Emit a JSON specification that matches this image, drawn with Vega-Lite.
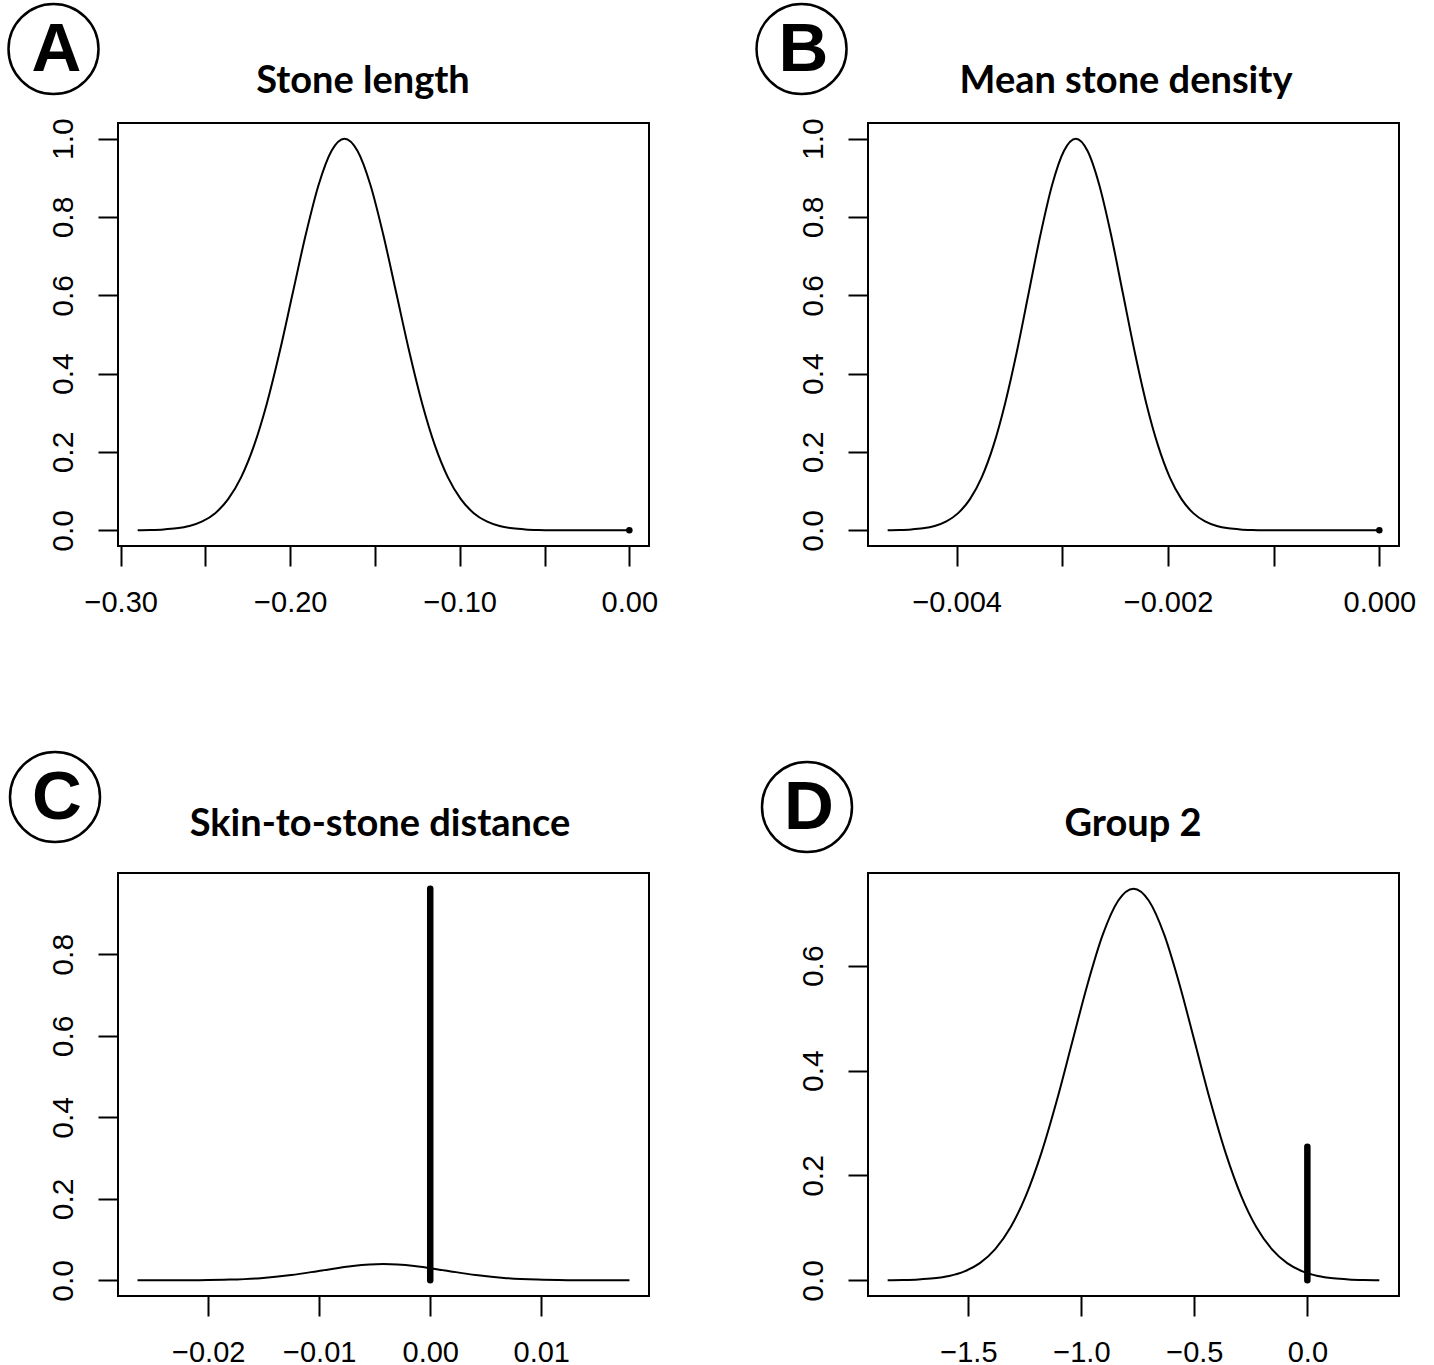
{
 "$schema": "https://vega.github.io/schema/vega-lite/v6.json",
 "background": "white",
 "padding": {"left": 2, "top": -2, "right": 10, "bottom": 5},
 "columns": 2,
 "spacing": {"row": 327, "column": 219},
 "bounds": "flush",
 "datasets": {
  "curves": [
   {"panel":"A","x":-0.290,"y":0.000335},{"panel":"A","x":-0.28238,"y":0.00088},{"panel":"A","x":-0.27475,"y":0.00219},{"panel":"A","x":-0.26713,"y":0.00509},{"panel":"A","x":-0.2595,"y":0.0111},{"panel":"A","x":-0.25188,"y":0.0228},{"panel":"A","x":-0.24425,"y":0.0439},{"panel":"A","x":-0.23663,"y":0.0796},{"panel":"A","x":-0.229,"y":0.1353},{"panel":"A","x":-0.22138,"y":0.2163},{"panel":"A","x":-0.21375,"y":0.3247},{"panel":"A","x":-0.20613,"y":0.4578},{"panel":"A","x":-0.1985,"y":0.6065},{"panel":"A","x":-0.19088,"y":0.7548},{"panel":"A","x":-0.18325,"y":0.8825},{"panel":"A","x":-0.17563,"y":0.9692},{"panel":"A","x":-0.168,"y":1},{"panel":"A","x":-0.16038,"y":0.9692},{"panel":"A","x":-0.15275,"y":0.8825},{"panel":"A","x":-0.14513,"y":0.7548},{"panel":"A","x":-0.1375,"y":0.6065},{"panel":"A","x":-0.12988,"y":0.4578},{"panel":"A","x":-0.12225,"y":0.3247},{"panel":"A","x":-0.11463,"y":0.2163},{"panel":"A","x":-0.107,"y":0.1353},{"panel":"A","x":-0.09938,"y":0.0796},{"panel":"A","x":-0.09175,"y":0.0439},{"panel":"A","x":-0.08413,"y":0.0228},{"panel":"A","x":-0.0765,"y":0.0111},{"panel":"A","x":-0.06888,"y":0.00509},{"panel":"A","x":-0.06125,"y":0.00219},{"panel":"A","x":-0.05363,"y":0.00088},{"panel":"A","x":-0.046,"y":0.000335},{"panel":"A","x":0,"y":0},
   {"panel":"B","x":-0.004653,"y":0.000335},{"panel":"B","x":-0.004542,"y":0.00088},{"panel":"B","x":-0.004431,"y":0.00219},{"panel":"B","x":-0.004319,"y":0.00509},{"panel":"B","x":-0.004208,"y":0.0111},{"panel":"B","x":-0.004097,"y":0.0228},{"panel":"B","x":-0.003986,"y":0.0439},{"panel":"B","x":-0.003874,"y":0.0796},{"panel":"B","x":-0.003763,"y":0.1353},{"panel":"B","x":-0.003652,"y":0.2163},{"panel":"B","x":-0.003541,"y":0.3247},{"panel":"B","x":-0.003429,"y":0.4578},{"panel":"B","x":-0.003318,"y":0.6065},{"panel":"B","x":-0.003207,"y":0.7548},{"panel":"B","x":-0.003096,"y":0.8825},{"panel":"B","x":-0.002984,"y":0.9692},{"panel":"B","x":-0.002873,"y":1},{"panel":"B","x":-0.002762,"y":0.9692},{"panel":"B","x":-0.002651,"y":0.8825},{"panel":"B","x":-0.002539,"y":0.7548},{"panel":"B","x":-0.002428,"y":0.6065},{"panel":"B","x":-0.002317,"y":0.4578},{"panel":"B","x":-0.002206,"y":0.3247},{"panel":"B","x":-0.002094,"y":0.2163},{"panel":"B","x":-0.001983,"y":0.1353},{"panel":"B","x":-0.001872,"y":0.0796},{"panel":"B","x":-0.001761,"y":0.0439},{"panel":"B","x":-0.001649,"y":0.0228},{"panel":"B","x":-0.001538,"y":0.0111},{"panel":"B","x":-0.001427,"y":0.00509},{"panel":"B","x":-0.001316,"y":0.00219},{"panel":"B","x":-0.001204,"y":0.00088},{"panel":"B","x":-0.001093,"y":0.000335},{"panel":"B","x":0,"y":0},
   {"panel":"C","x":-0.02637,"y":0.00001},{"panel":"C","x":-0.0236,"y":0.00009},{"panel":"C","x":-0.02083,"y":0.00044},{"panel":"C","x":-0.01806,"y":0.00176},{"panel":"C","x":-0.01529,"y":0.00541},{"panel":"C","x":-0.01252,"y":0.01299},{"panel":"C","x":-0.00975,"y":0.02426},{"panel":"C","x":-0.00698,"y":0.0353},{"panel":"C","x":-0.00421,"y":0.04},{"panel":"C","x":-0.00144,"y":0.0353},{"panel":"C","x":0.00133,"y":0.02426},{"panel":"C","x":0.0041,"y":0.01299},{"panel":"C","x":0.00687,"y":0.00541},{"panel":"C","x":0.00964,"y":0.00176},{"panel":"C","x":0.01241,"y":0.00044},{"panel":"C","x":0.01518,"y":0.00009},{"panel":"C","x":0.01795,"y":0.00001},
   {"panel":"D","x":-1.8574,"y":0.00025},{"panel":"D","x":-1.7894,"y":0.00066},{"panel":"D","x":-1.7214,"y":0.00164},{"panel":"D","x":-1.6534,"y":0.0038},{"panel":"D","x":-1.5854,"y":0.00829},{"panel":"D","x":-1.5174,"y":0.01703},{"panel":"D","x":-1.4494,"y":0.03279},{"panel":"D","x":-1.3814,"y":0.05946},{"panel":"D","x":-1.3134,"y":0.10107},{"panel":"D","x":-1.2454,"y":0.16158},{"panel":"D","x":-1.1774,"y":0.24255},{"panel":"D","x":-1.1094,"y":0.34198},{"panel":"D","x":-1.0414,"y":0.45306},{"panel":"D","x":-0.9734,"y":0.56384},{"panel":"D","x":-0.9054,"y":0.65923},{"panel":"D","x":-0.8374,"y":0.72399},{"panel":"D","x":-0.7694,"y":0.747},{"panel":"D","x":-0.7014,"y":0.72399},{"panel":"D","x":-0.6334,"y":0.65923},{"panel":"D","x":-0.5654,"y":0.56384},{"panel":"D","x":-0.4974,"y":0.45306},{"panel":"D","x":-0.4294,"y":0.34198},{"panel":"D","x":-0.3614,"y":0.24255},{"panel":"D","x":-0.2934,"y":0.16158},{"panel":"D","x":-0.2254,"y":0.10107},{"panel":"D","x":-0.1574,"y":0.05946},{"panel":"D","x":-0.0894,"y":0.03279},{"panel":"D","x":-0.0214,"y":0.01703},{"panel":"D","x":0.0466,"y":0.00829},{"panel":"D","x":0.1146,"y":0.0038},{"panel":"D","x":0.1826,"y":0.00164},{"panel":"D","x":0.2506,"y":0.00066},{"panel":"D","x":0.3186,"y":0.00025}
  ],
  "spikes": [
   {"panel":"A","x":0,"y0":0,"y1":0},
   {"panel":"B","x":0,"y0":0,"y1":0},
   {"panel":"C","x":0,"y0":0,"y1":0.961},
   {"panel":"D","x":0,"y0":0,"y1":0.255}
  ],
  "labels": [
   {"panel":"A","letter":"A","title":"Stone length"},
   {"panel":"B","letter":"B","title":"Mean stone density"},
   {"panel":"C","letter":"C","title":"Skin-to-stone distance"},
   {"panel":"D","letter":"D","title":"Group 2"}
  ]
 },
 "concat": [
  {
   "width": 531, "height": 423,
   "layer": [
    {"data": {"name": "curves"}, "transform": [{"filter": "datum.panel === 'A'"}],
     "mark": {"type": "line", "color": "black", "strokeWidth": 2, "interpolate": "monotone"},
     "encoding": {
      "x": {"field": "x", "type": "quantitative", "scale": {"domain": [-0.3016, 0.0116], "nice": false, "zero": false},
            "axis": {"title": null, "values": [-0.3, -0.25, -0.2, -0.15, -0.1, -0.05, 0], "labelExpr": "indexof([-0.3, -0.2, -0.1, 0], datum.value) >= 0 ? format(datum.value, '.2f') : ''"}},
      "y": {"field": "y", "type": "quantitative", "scale": {"domain": [-0.04, 1.04], "nice": false, "zero": false},
            "axis": {"title": null, "values": [0, 0.2, 0.4, 0.6, 0.8, 1], "format": ".1f", "labelAngle": 270, "labelAlign": "center", "labelBaseline": "alphabetic"}}
     }},
    {"data": {"name": "spikes"}, "transform": [{"filter": "datum.panel === 'A'"}],
     "mark": {"type": "rule", "color": "black", "strokeWidth": 6.5, "strokeCap": "round"},
     "encoding": {"x": {"field": "x", "type": "quantitative"}, "y": {"field": "y0", "type": "quantitative"}, "y2": {"field": "y1"}}},
    {"data": {"name": "labels"}, "transform": [{"filter": "datum.panel === 'A'"}],
     "mark": {"type": "point", "shape": "circle", "size": 8100, "filled": false, "stroke": "black", "strokeWidth": 2.5, "opacity": 1, "clip": false},
     "encoding": {"x": {"datum": -0.33964, "type": "quantitative"}, "y": {"datum": 1.22893, "type": "quantitative"}}},
    {"data": {"name": "labels"}, "transform": [{"filter": "datum.panel === 'A'"}],
     "mark": {"type": "text", "font": "Liberation Sans", "fontWeight": "bold", "fontSize": 69, "align": "center", "baseline": "alphabetic", "color": "black", "clip": false},
     "encoding": {"x": {"datum": -0.33787, "type": "quantitative"}, "y": {"datum": 1.17149, "type": "quantitative"}, "text": {"field": "letter"}}},
    {"data": {"name": "labels"}, "transform": [{"filter": "datum.panel === 'A'"}],
     "mark": {"type": "text", "font": "Lato", "fontWeight": "bold", "fontSize": 38, "align": "center", "baseline": "alphabetic", "color": "black", "clip": false},
     "encoding": {"x": {"datum": -0.15709, "type": "quantitative"}, "y": {"datum": 1.1166, "type": "quantitative"}, "text": {"field": "title"}}}
   ]
  },
  {
   "width": 531, "height": 423,
   "layer": [
    {"data": {"name": "curves"}, "transform": [{"filter": "datum.panel === 'B'"}],
     "mark": {"type": "line", "color": "black", "strokeWidth": 2, "interpolate": "monotone"},
     "encoding": {
      "x": {"field": "x", "type": "quantitative", "scale": {"domain": [-0.004839, 0.000186], "nice": false, "zero": false},
            "axis": {"title": null, "values": [-0.004, -0.003, -0.002, -0.001, 0], "labelExpr": "indexof([-0.004, -0.002, 0], datum.value) >= 0 ? format(datum.value, '.3f') : ''"}},
      "y": {"field": "y", "type": "quantitative", "scale": {"domain": [-0.04, 1.04], "nice": false, "zero": false},
            "axis": {"title": null, "values": [0, 0.2, 0.4, 0.6, 0.8, 1], "format": ".1f", "labelAngle": 270, "labelAlign": "center", "labelBaseline": "alphabetic"}}
     }},
    {"data": {"name": "spikes"}, "transform": [{"filter": "datum.panel === 'B'"}],
     "mark": {"type": "rule", "color": "black", "strokeWidth": 6.5, "strokeCap": "round"},
     "encoding": {"x": {"field": "x", "type": "quantitative"}, "y": {"field": "y0", "type": "quantitative"}, "y2": {"field": "y1"}}},
    {"data": {"name": "labels"}, "transform": [{"filter": "datum.panel === 'B'"}],
     "mark": {"type": "point", "shape": "circle", "size": 8100, "filled": false, "stroke": "black", "strokeWidth": 2.5, "opacity": 1, "clip": false},
     "encoding": {"x": {"datum": -0.005468, "type": "quantitative"}, "y": {"datum": 1.22893, "type": "quantitative"}}},
    {"data": {"name": "labels"}, "transform": [{"filter": "datum.panel === 'B'"}],
     "mark": {"type": "text", "font": "Liberation Sans", "fontWeight": "bold", "fontSize": 69, "align": "center", "baseline": "alphabetic", "color": "black", "clip": false},
     "encoding": {"x": {"datum": -0.005449, "type": "quantitative"}, "y": {"datum": 1.17149, "type": "quantitative"}, "text": {"field": "letter"}}},
    {"data": {"name": "labels"}, "transform": [{"filter": "datum.panel === 'B'"}],
     "mark": {"type": "text", "font": "Lato", "fontWeight": "bold", "fontSize": 38, "align": "center", "baseline": "alphabetic", "color": "black", "clip": false},
     "encoding": {"x": {"datum": -0.0023975, "type": "quantitative"}, "y": {"datum": 1.1166, "type": "quantitative"}, "text": {"field": "title"}}}
   ]
  },
  {
   "width": 531, "height": 423,
   "layer": [
    {"data": {"name": "curves"}, "transform": [{"filter": "datum.panel === 'C'"}],
     "mark": {"type": "line", "color": "black", "strokeWidth": 2, "interpolate": "monotone"},
     "encoding": {
      "x": {"field": "x", "type": "quantitative", "scale": {"domain": [-0.02813, 0.01971], "nice": false, "zero": false},
            "axis": {"title": null, "values": [-0.02, -0.01, 0, 0.01], "format": ".2f"}},
      "y": {"field": "y", "type": "quantitative", "scale": {"domain": [-0.03844, 0.99944], "nice": false, "zero": false},
            "axis": {"title": null, "values": [0, 0.2, 0.4, 0.6, 0.8], "format": ".1f", "labelAngle": 270, "labelAlign": "center", "labelBaseline": "alphabetic"}}
     }},
    {"data": {"name": "spikes"}, "transform": [{"filter": "datum.panel === 'C'"}],
     "mark": {"type": "rule", "color": "black", "strokeWidth": 6.5, "strokeCap": "round"},
     "encoding": {"x": {"field": "x", "type": "quantitative"}, "y": {"field": "y0", "type": "quantitative"}, "y2": {"field": "y1"}}},
    {"data": {"name": "labels"}, "transform": [{"filter": "datum.panel === 'C'"}],
     "mark": {"type": "point", "shape": "circle", "size": 8100, "filled": false, "stroke": "black", "strokeWidth": 2.5, "opacity": 1, "clip": false},
     "encoding": {"x": {"datum": -0.033806, "type": "quantitative"}, "y": {"datum": 1.18592, "type": "quantitative"}}},
    {"data": {"name": "labels"}, "transform": [{"filter": "datum.panel === 'C'"}],
     "mark": {"type": "text", "font": "Liberation Sans", "fontWeight": "bold", "fontSize": 69, "align": "center", "baseline": "alphabetic", "color": "black", "clip": false},
     "encoding": {"x": {"datum": -0.033626, "type": "quantitative"}, "y": {"datum": 1.13071, "type": "quantitative"}, "text": {"field": "letter"}}},
    {"data": {"name": "labels"}, "transform": [{"filter": "datum.panel === 'C'"}],
     "mark": {"type": "text", "font": "Lato", "fontWeight": "bold", "fontSize": 38, "align": "center", "baseline": "alphabetic", "color": "black", "clip": false},
     "encoding": {"x": {"datum": -0.004525, "type": "quantitative"}, "y": {"datum": 1.09022, "type": "quantitative"}, "text": {"field": "title"}}}
   ]
  },
  {
   "width": 531, "height": 423,
   "layer": [
    {"data": {"name": "curves"}, "transform": [{"filter": "datum.panel === 'D'"}],
     "mark": {"type": "line", "color": "black", "strokeWidth": 2, "interpolate": "monotone"},
     "encoding": {
      "x": {"field": "x", "type": "quantitative", "scale": {"domain": [-1.9444, 0.4056], "nice": false, "zero": false},
            "axis": {"title": null, "values": [-1.5, -1, -0.5, 0], "format": ".1f"}},
      "y": {"field": "y", "type": "quantitative", "scale": {"domain": [-0.02988, 0.77688], "nice": false, "zero": false},
            "axis": {"title": null, "values": [0, 0.2, 0.4, 0.6], "format": ".1f", "labelAngle": 270, "labelAlign": "center", "labelBaseline": "alphabetic"}}
     }},
    {"data": {"name": "spikes"}, "transform": [{"filter": "datum.panel === 'D'"}],
     "mark": {"type": "rule", "color": "black", "strokeWidth": 6.5, "strokeCap": "round"},
     "encoding": {"x": {"field": "x", "type": "quantitative"}, "y": {"field": "y0", "type": "quantitative"}, "y2": {"field": "y1"}}},
    {"data": {"name": "labels"}, "transform": [{"filter": "datum.panel === 'D'"}],
     "mark": {"type": "point", "shape": "circle", "size": 8100, "filled": false, "stroke": "black", "strokeWidth": 2.5, "opacity": 1, "clip": false},
     "encoding": {"x": {"datum": -2.21436, "type": "quantitative"}, "y": {"datum": 0.90276, "type": "quantitative"}}},
    {"data": {"name": "labels"}, "transform": [{"filter": "datum.panel === 'D'"}],
     "mark": {"type": "text", "font": "Liberation Sans", "fontWeight": "bold", "fontSize": 69, "align": "center", "baseline": "alphabetic", "color": "black", "clip": false},
     "encoding": {"x": {"datum": -2.20551, "type": "quantitative"}, "y": {"datum": 0.85985, "type": "quantitative"}, "text": {"field": "letter"}}},
    {"data": {"name": "labels"}, "transform": [{"filter": "datum.panel === 'D'"}],
     "mark": {"type": "text", "font": "Lato", "fontWeight": "bold", "fontSize": 38, "align": "center", "baseline": "alphabetic", "color": "black", "clip": false},
     "encoding": {"x": {"datum": -0.77163, "type": "quantitative"}, "y": {"datum": 0.84745, "type": "quantitative"}, "text": {"field": "title"}}}
   ]
  }
 ],
 "config": {
  "view": {"stroke": "black", "strokeWidth": 2, "fill": "white"},
  "axis": {"domain": false, "grid": false, "ticks": true, "tickColor": "black", "tickWidth": 2, "tickSize": 20, "labelColor": "black", "labelFont": "Liberation Sans", "labelOverlap": false, "labelFlush": false},
  "axisX": {"labelPadding": 45, "labelBaseline": "alphabetic", "labelAngle": 0, "labelFontSize": 29},
  "axisY": {"labelPadding": 26, "labelFontSize": 30}
 }
}
